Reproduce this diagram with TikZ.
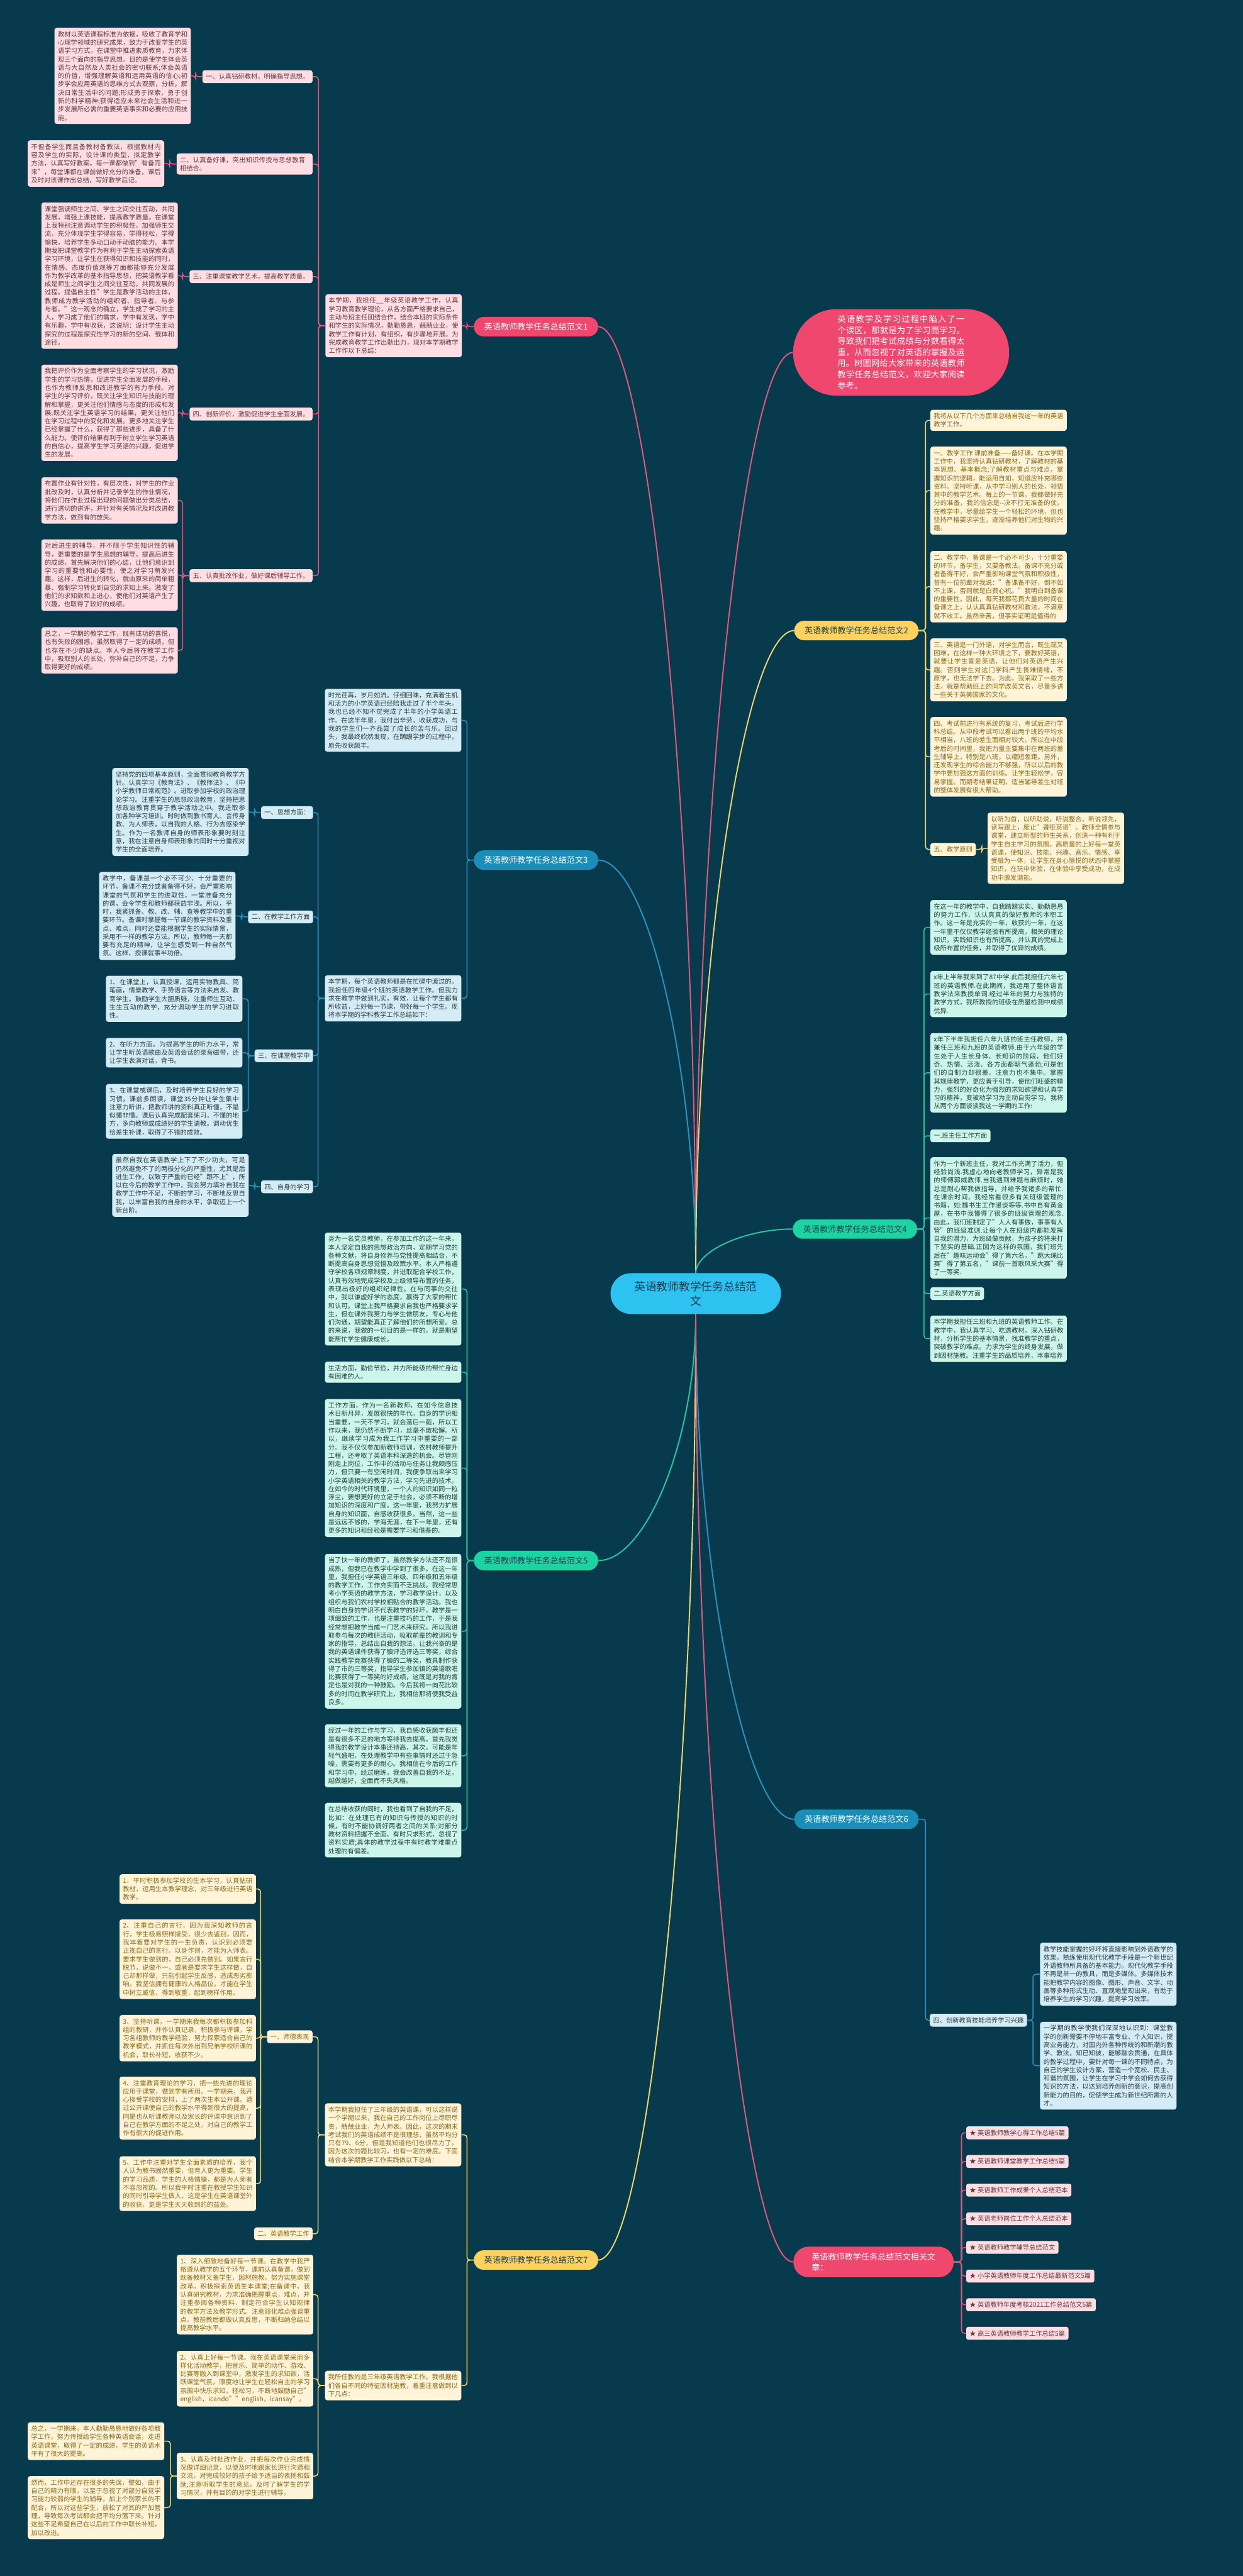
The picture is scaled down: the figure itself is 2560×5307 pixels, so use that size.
\documentclass[tikz,border=0pt]{standalone}
\usepackage{fontspec}
\setmainfont{Noto Sans CJK SC}
\XeTeXlinebreaklocale "zh"
\XeTeXlinebreakskip=0pt plus 1pt
\usetikzlibrary{positioning}

\definecolor{bgc}{RGB}{7,58,77}
\definecolor{pkFill}{HTML}{F0476F}
\definecolor{pkLine}{HTML}{E5577E}
\definecolor{pkBox}{HTML}{FFDDE2}
\definecolor{pkText}{HTML}{5E3A40}
\definecolor{ywFill}{HTML}{FFD25E}
\definecolor{ywLine}{HTML}{F2D56B}
\definecolor{ywBox}{HTML}{FFF3D8}
\definecolor{ywText}{HTML}{8E6A18}
\definecolor{blFill}{HTML}{1A8DB9}
\definecolor{blLine}{HTML}{2993C2}
\definecolor{blBox}{HTML}{D3ECF5}
\definecolor{blText}{HTML}{2E3B40}
\definecolor{gnFill}{HTML}{1CD3A2}
\definecolor{gnLine}{HTML}{22C9A0}
\definecolor{gnBox}{HTML}{CCF6EA}
\definecolor{gnText}{HTML}{24403C}
\definecolor{ctFill}{HTML}{2EC2F0}
\definecolor{ctText}{HTML}{1C3D50}

\newcommand{\cardfont}{\fontsize{13.3}{17.2}\selectfont}
\newcommand{\branchfont}{\fontsize{17}{22}\selectfont}

\tikzset{
  card/.style={rounded corners=5pt, inner xsep=7pt, inner ysep=7pt,
    font=\cardfont, align=justify, text width=267pt},
  tag/.style={rounded corners=5pt, inner xsep=7pt, inner ysep=7pt,
    font=\cardfont, align=left},
  pkcard/.style={card, fill=pkBox, text=pkText, anchor=north west},
  pktag/.style={tag, fill=pkBox, text=pkText, anchor=east},
  ywcard/.style={card, fill=ywBox, text=ywText, anchor=north west},
  ywtag/.style={tag, fill=ywBox, text=ywText},
  blcard/.style={card, fill=blBox, text=blText, anchor=north west},
  bltag/.style={tag, fill=blBox, text=blText},
  gncard/.style={card, fill=gnBox, text=gnText, anchor=north west},
  gntag/.style={tag, fill=gnBox, text=gnText, anchor=west},
  branch/.style={rounded corners=20pt, minimum width=256pt, minimum height=40pt,
    inner xsep=14pt, font=\branchfont},
  pkwire/.style={draw=pkLine, line width=2pt, rounded corners=6pt},
  ywwire/.style={draw=ywLine, line width=2pt, rounded corners=6pt},
  blwire/.style={draw=blLine, line width=2pt, rounded corners=6pt},
  gnwire/.style={draw=gnLine, line width=2pt, rounded corners=6pt},
  mainwire/.style={line width=2.5pt}
}

\begin{document}
\begin{tikzpicture}[x=1pt, y=-1pt]
\useasboundingbox (0,0) rectangle (2560,5307);
\fill[bgc] (0,0) rectangle (2560,5307);

% centre and intro
\node[fill=ctFill, text=ctText, rounded corners=42pt, minimum width=351pt, minimum height=84pt,
  align=center, font=\fontsize{23}{30}\selectfont] (root) at (1433,2665)
  {英语教师教学任务总结范\\文};
\node[fill=pkFill, text=white, rounded corners=89pt, minimum width=445pt, minimum height=178pt,
  text width=262pt, align=justify, font=\fontsize{17.3}{22.7}\selectfont] (intro) at (1856,726)
  {英语教学及学习过程中陷入了一个误区，那就是为了学习而学习，导致我们把考试成绩与分数看得太重，从而忽视了对英语的掌握及运用。树图网给大家带来的英语教师教学任务总结范文，欢迎大家阅读参考。};

% branch nodes
\node[branch, fill=pkFill, text=white] (b1) at (1104,673) {英语教师教学任务总结范文1};
\node[branch, fill=ywFill, text=ctText] (b2) at (1764,1299) {英语教师教学任务总结范文2};
\node[branch, fill=blFill, text=white] (b3) at (1104,1772) {英语教师教学任务总结范文3};
\node[branch, fill=gnFill, text=ctText] (b4) at (1761,2532) {英语教师教学任务总结范文4};
\node[branch, fill=gnFill, text=ctText] (b5) at (1104,3215) {英语教师教学任务总结范文5};
\node[branch, fill=blFill, text=white] (b6) at (1764,3748) {英语教师教学任务总结范文6};
\node[branch, fill=ywFill, text=ctText] (b7) at (1104,4656) {英语教师教学任务总结范文7};
\node[branch, fill=pkFill, text=white, anchor=west, minimum width=330pt, minimum height=63pt,
  align=left, rounded corners=31pt] (b8) at (1634,4660)
  {英语教师教学任务总结范文相关文\\章：};

% main curves
\draw[mainwire, pkLine] (root.north) .. controls (1433,1648) and (1332,673) .. (b1.east);
\draw[mainwire, pkLine] (root.north) .. controls (1433,1675) and (1534,726) .. (intro.west);
\draw[mainwire, blLine] (root.north) .. controls (1433,2198) and (1332,1772) .. (b3.east);
\draw[mainwire, ywLine] (root.north) .. controls (1433,1961) and (1535,1299) .. (b2.west);
\draw[mainwire, gnLine] (root.north) .. controls (1433,2578) and (1533,2532) .. (b4.west);
\draw[mainwire, gnLine] (root.south) .. controls (1433,2961) and (1332,3215) .. (b5.east);
\draw[mainwire, blLine] (root.south) .. controls (1433,3228) and (1535,3748) .. (b6.west);
\draw[mainwire, ywLine] (root.south) .. controls (1433,3682) and (1332,4656) .. (b7.east);
\draw[mainwire, pkLine] (root.south) .. controls (1433,3684) and (1534,4660) .. (b8.west);

% branch 1
\node[pkcard] (b1i) at (670,606) {本学期，我担任\_\_年级英语教学工作，认真学习教育教学理论，从各方面严格要求自己，主动与班主任团结合作，结合本班的实际条件和学生的实际情况，勤勤恳恳，兢兢业业，使教学工作有计划，有组织，有步骤地开展。为完成教育教学工作出勤出力，现对本学期教学工作作以下总结：};
\node[pktag] (b1l1) at (644,158) {一、认真钻研教材，明确指导思想。};
\node[pktag, text width=266pt] (b1l2) at (644,338) {二、认真备好课，突出知识传授与思想教育相结合。};
\node[pktag] (b1l3) at (644,570) {三、注重课堂教学艺术，提高教学质量。};
\node[pktag] (b1l4) at (644,853) {四、创新评价，激励促进学生全面发展。};
\node[pktag] (b1l5) at (644,1186) {五、认真批改作业，做好课后辅导工作。};
\node[pkcard] (b1t1) at (112,57) {教材以英语课程标准为依据，吸收了教育学和心理学领域的研究成果，致力于改变学生的英语学习方式，在课堂中推进素质教育，力求体现三个面向的指导思想。目的是使学生体会英语与大自然及人类社会的密切联系;体会英语的价值，增强理解英语和运用英语的信心;初步学会应用英语的思维方式去观察，分析，解决日常生活中的问题;形成勇于探索，勇于创新的科学精神;获得适应未来社会生活和进一步发展所必需的重要英语事实和必要的应用技能。};
\node[pkcard] (b1t2) at (57,289) {不但备学生而且备教材备教法，根据教材内容及学生的实际，设计课的类型，拟定教学方法，认真写好教案。每一课都做到"有备而来"，每堂课都在课前做好充分的准备，课后及时对该课作出总结，写好教学后记。};
\node[pkcard] (b1t3) at (85,417) {课堂强调师生之间、学生之间交往互动，共同发展，增强上课技能，提高教学质量。在课堂上我特别注意调动学生的积极性，加强师生交流，充分体现学生学得容易，学得轻松，学得愉快，培养学生多动口动手动脑的能力。本学期我把课堂教学作为有利于学生主动探索英语学习环境，让学生在获得知识和技能的同时，在情感、态度价值观等方面都能够充分发展作为教学改革的基本指导思想，把英语教学看成是师生之间学生之间交往互动，共同发展的过程。提倡自主性"学生是教学活动的主体，教师成为教学活动的组织者、指导者、与参与者。"这一观念的确立，学生成了学习的主人，学习成了他们的需求，学中有发现，学中有乐趣，学中有收获，这说明：设计学生主动探究的过程是探究性学习的新的空间、载体和途径。};
\node[pkcard] (b1t4) at (85,751) {我把评价作为全面考察学生的学习状况，激励学生的学习热情，促进学生全面发展的手段，也作为教师反思和改进教学的有力手段。对学生的学习评价，既关注学生知识与技能的理解和掌握，更关注他们情感与态度的形成和发展;既关注学生英语学习的结果，更关注他们在学习过程中的变化和发展。更多地关注学生已经掌握了什么，获得了那些进步，具备了什么能力。使评价结果有利于树立学生学习英语的自信心，提高学生学习英语的兴趣，促进学生的发展。};
\node[pkcard] (b1t5a) at (85,983) {布置作业有针对性，有层次性，对学生的作业批改及时，认真分析并记录学生的作业情况，将他们在作业过程出现的问题做出分类总结，进行透切的讲评，并针对有关情况及时改进教学方法，做到有的放矢。};
\node[pkcard] (b1t5b) at (85,1111) {对后进生的辅导，并不限于学生知识性的辅导，更重要的是学生思想的辅导，提高后进生的成绩，首先解决他们的心结，让他们意识到学习的重要性和必要性，使之对学习萌发兴趣。这样，后进生的转化，就由原来的简单粗暴、强制学习转化到自觉的求知上来。激发了他们的求知欲和上进心，使他们对英语产生了兴趣，也取得了较好的成绩。};
\node[pkcard] (b1t5c) at (85,1292) {总之，一学期的教学工作，既有成功的喜悦，也有失败的困惑，虽然取得了一定的成绩，但也存在不少的缺点。本人今后将在教学工作中，吸取别人的长处，弥补自己的不足，力争取得更好的成绩。};
\draw[pkwire] (b1.west) -- ++(-14,0) |- (b1i.east);
\foreach \c in {b1l1,b1l2,b1l3,b1l4,b1l5}
  \draw[pkwire] (b1i.west) -- ++(-14,0) |- (\c.east);
\foreach \p/\c in {b1l1/b1t1,b1l2/b1t2,b1l3/b1t3,b1l4/b1t4,b1l5/b1t5a,b1l5/b1t5b,b1l5/b1t5c}
  \draw[pkwire] (\p.west) -- ++(-14,0) |- (\c.east);

% branch 2
\node[ywcard] (b2t1) at (1916,844) {我将从以下几个方面来总结自我这一年的英语教学工作。};
\node[ywcard] (b2t2) at (1916,920) {一、教学工作 课前准备——备好课。在本学期工作中，我坚持认真钻研教材，了解教材的基本思想、基本概念;了解教材重点与难点，掌握知识的逻辑，能运用自如，知道应补充哪些资料。坚持听课，从中学习别人的长处，领悟其中的教学艺术。每上的一节课，我都做好充分的准备，我的信念是{-}{-}决不打无准备的仗。在教学中，尽量给学生一个轻松的环境，但也坚持严格要求学生，逐渐培养他们对生物的兴趣。};
\node[ywcard] (b2t3) at (1916,1135) {二、教学中，备课是一个必不可少，十分重要的环节，备学生，又要备教法。备课不充分或者备得不好，会严重影响课堂气氛和积极性，曾有一位前辈对我说："备课备不好，倒不如不上课，否则就是白费心机。"我明白到备课的重要性，因此，每天我都花费大量的时间在备课之上，认认真真钻研教材和教法，不满意就不收工。虽然辛苦，但事实证明是值得的};
\node[ywcard] (b2t4) at (1916,1315) {三、英语是一门外语，对学生而言，既生疏又困难，在这样一种大环境之下，要教好英语，就要让学生喜爱英语，让他们对英语产生兴趣。否则学生对这门学科产生畏难情绪，不原学，也无法学下去。为此，我采取了一些方法，就是帮助班上的同学改英文名，尽量多讲一些关于英美国家的文化。};
\node[ywcard] (b2t5) at (1916,1477) {四、考试前进行有系统的复习，考试后进行学科总结。从中段考试可以看出两个班的平均水平相当，八班的差生面相对较大。所以在中段考后的时间里，我把力量主要集中在两班的差生辅导上，特别是八班，以缩短差距。另外，还发现学生的综合能力不够强，所以以后的教学中要加强这方面的训练。让学生轻松学，容易掌握。而期考结果证明，适当辅导差生对班的整体发展有很大帮助。};
\node[ywtag, anchor=west] (b2l6) at (1916,1750) {五、教学原则};
\node[ywcard] (b2t6) at (2034,1674) {以听为首，以听助说，听说整合，听说领先，读写跟上，废止"聋哑英语"。教师全情参与课堂，建立新型的师生关系，创造一种有利于学生自主学习的氛围，高质量的上好每一堂英语课，使知识、技能、兴趣、音乐、情感、享受融为一体，让学生在身心愉悦的状态中掌握知识，在玩中体验，在体验中享受成功，在成功中激发潜能。};
\foreach \c in {b2t1,b2t2,b2t3,b2t4,b2t5,b2l6}
  \draw[ywwire] (b2.east) -- ++(14,0) |- (\c.west);
\draw[ywwire] (b2l6.east) -- ++(12,0) |- (b2t6.west);

% branch 3
\node[blcard] (b3a) at (669,1419) {时光荏苒，岁月如流。仔细回味，充满着生机和活力的小学英语已经陪我走过了半个年头。我也已经不知不觉完成了半年的小学英语工作。在这半年里，我付出辛劳，收获成功，与我的学生们一齐品尝了成长的苦与乐。回过头，我最终欣然发现，在蹒跚学步的过程中，原先收获颇丰。};
\node[blcard] (b3b) at (669,2009) {本学期，每个英语教师都是在忙碌中渡过的。我担任四年级4个班的英语教学工作。但我力求在教学中做到扎实，有效，让每个学生都有所收益，上好每一节课，带好每一个学生。现将本学期的学科教学工作总结如下：};
\node[bltag, anchor=east] (b3l1) at (645,1674) {一、思想方面：};
\node[bltag, anchor=east] (b3l2) at (645,1889) {二、在教学工作方面};
\node[bltag, anchor=east] (b3l3) at (645,2175) {三、在课堂教学中};
\node[bltag, anchor=east] (b3l4) at (645,2445) {四、自身的学习};
\node[blcard] (b3t1) at (231,1582) {坚持党的四项基本原则，全面贯彻教育教学方针。认真学习《教育法》、《教师法》、《中小学教师日常规范》。进取参加学校的政治理论学习。注重学生的思想政治教育，坚持把思想政治教育贯穿于教学活动之中。我进取参加各种学习培训。时时做到教书育人、言传身教、为人师表，以自我的人格、行为去感染学生。作为一名教师自身的师表形象要时刻注意，我在注意自身师表形象的同时十分重视对学生的全面培养。};
\node[blcard] (b3t2) at (204,1796) {教学中，备课是一个必不可少、十分重要的环节，备课不充分或者备得不好，会严重影响课堂的气氛和学生的进取性，一堂准备充分的课，会令学生和教师都获益非浅。所以，平时，我紧抓备、教、改、辅、查等教学中的重要环节。备课时掌握每一节课的教学资料及重点、难点，同时还要能根据学生的实际情景，采用不一样的教学方法。所以，教师每一天都要有充足的精神，让学生感受到一种自然气氛。这样，授课就事半功倍。};
\node[blcard] (b3t3a) at (218,2010) {1、在课堂上，认真授课，运用实物教具、简笔画，情景教学、手势语言等方法来启发、教育学生。鼓励学生大胆质疑，注重师生互动、生生互动的教学，充分调动学生的学习进取性。};
\node[blcard] (b3t3b) at (218,2138) {2、在听力方面。为提高学生的听力水平，常让学生听英语歌曲及英语会话的录音磁带，还让学生表演对话，背书。};
\node[blcard] (b3t3c) at (218,2233) {3、在课堂或课后，及时培养学生良好的学习习惯，课前多朗读，课堂35分钟让学生集中注意力听讲，把教师讲的资料真正听懂，不是似懂非懂。课后认真完成配套练习，不懂的地方，多向教师或成绩好的学生请教。调动优生给差生补课，取得了不错的成效。};
\node[blcard] (b3t4) at (231,2377) {虽然自我在英语教学上下了不少功夫，可是仍然避免不了的两极分化的严重性，尤其是后进生工作，以致于严重的已经"跟不上"，所以在今后的教学工作中，我会努力填补自我在教学工作中不足，不断的学习，不断地反思自我，以丰富自我的自身的水平，争取迈上一个新台阶。};
\foreach \c in {b3a,b3b}
  \draw[blwire] (b3.west) -- ++(-14,0) |- (\c.east);
\foreach \c in {b3l1,b3l2,b3l3,b3l4}
  \draw[blwire] (b3b.west) -- ++(-14,0) |- (\c.east);
\foreach \p/\c in {b3l1/b3t1,b3l2/b3t2,b3l3/b3t3a,b3l3/b3t3b,b3l3/b3t3c,b3l4/b3t4}
  \draw[blwire] (\p.west) -- ++(-13,0) |- (\c.east);

% branch 4
\node[gncard] (b4t1) at (1916,1854) {在这一年的教学中，自我踏踏实实、勤勤恳恳的努力工作，认认真真的做好教师的本职工作。这一年是充实的一年，收获的一年，在这一年里不仅仅教学经验有所提高，相关的理论知识，实践知识也有所提高，并认真的完成上级所布置的任务，并取得了优异的成绩。};
\node[gncard] (b4t2) at (1916,2000) {x年上半年我来到了87中学.此后我担任六年七班的英语教师.在此期间，我运用了整体语言教学法来教授单词.经过半年的努力与独特的教学方式，我所教授的班级在质量检测中成绩优异.};
\node[gncard] (b4t3) at (1916,2128) {x年下半年我担任六年九班的班主任教师，并兼任三班和九班的英语教师.由于六年级的学生处于人生长身体、长知识的阶段，他们好奇、热情、活泼、各方面都朝气蓬勃;可是他们的自制力却很差，注意力也不集中。掌握其规律教学，更应善于引导，使他们旺盛的精力，强烈的好奇化为强烈的求知欲望和认真学习的精神，变被动学习为主动自觉学习。我将从两个方面谈谈我这一学期的工作:};
\node[gntag] (b4l4) at (1916,2340) {一.班主任工作方面};
\node[gncard] (b4t5) at (1916,2384) {作为一个新班主任，我对工作充满了活力，但经验尚浅.我虚心地向老教师学习，异常是我的师傅郭威教师.当我遇到难题与麻烦时，她总是耐心帮我做指导，并给予我诸多的帮忙.在课余时间，我经常看很多有关班级管理的书籍，如:魏书生工作漫谈等等.书中自有黄金屋，在书中我懂得了很多的班级管理的观念.由此，我们班制定了"人人有事做，事事有人管"的班级准则.让每个人在班级内都能发挥自我的潜力，为班级做贡献，为孩子的将来打下坚实的基础.正因为这样的氛围，我们班先后在"趣味运动会"得了第六名，"跳大绳比赛"得了第五名，"课前一首歌风采大赛"得了一等奖.};
\node[gntag] (b4l6) at (1916,2665) {二.英语教学方面};
\node[gncard] (b4t7) at (1916,2710) {本学期我担任三班和九班的英语教师工作。在教学中，我认真学习、吃透教材，深入钻研教材，分析学生的基本情景，找准教学的重点，突破教学的难点。力求为学生的终身发展，做到因材施教。注重学生的品质培养，本事培养};
\foreach \c in {b4t1,b4t2,b4t3,b4l4,b4t5,b4l6,b4t7}
  \draw[gnwire] (b4.east) -- ++(14,0) |- (\c.west);

% branch 5
\node[gncard] (b5t1) at (669,2539) {身为一名党员教师，在参加工作的这一年来，本人坚定自我的思想政治方向，定期学习党的各种文献，将自身修养与党性提高相结合，不断提高自身思想觉悟及政策水平。本人严格遵守学校各项规章制度，并进取配合学校工作，认真有效地完成学校及上级领导布置的任务，表现出极好的组织纪律性。在与同事的交往中，我以谦虚好学的态度，赢得了大家的帮忙和认可。课堂上我严格要求自我也严格要求学生，但在课外我努力与学生做朋友，专心与他们沟通，期望能真正了解他们的所想所爱。总的来说，我做的一切目的是一样的，就是期望能帮忙学生健康成长。};
\node[gncard] (b5t2) at (669,2805) {生活方面，勤俭节俭，并力所能级的帮忙身边有困难的人。};
\node[gncard] (b5t3) at (669,2882) {工作方面，作为一名新教师，在如今信息技术日新月异，发展很快的年代，自身的学识相当重要，一天不学习，就会落后一截，所以工作以来，我仍然不断学习，丝毫不敢松懈。所以，继续学习成为我工作学习中重要的一部分。我不仅仅参加新教师培训，农村教师提升工程，还考取了英语本科深造的机会。尽管刚刚走上岗位，工作中的活动与任务让我颇感压力，但只要一有空闲时间，我便争取出来学习小学英语相关的教学方法，学习先进的技术。在如今的时代环境里，一个人的知识如同一粒浮尘，要想更好的立足于社会，必须不断的增加知识的深度和广度。这一年里，我努力扩展自身的知识面，自感收获很多。当然，这一些是远远不够的，学海无涯，在下一年里，还有更多的知识和经验是需要学习和借鉴的。};
\node[gncard] (b5t4) at (669,3201) {当了快一年的教师了，虽然教学方法还不是很成熟，但我已在教学中学到了很多。在这一年里，我担任小学英语三年级、四年级和五年级的教学工作，工作充实而不乏挑战。我经常思考小学英语的教学方法，学习教学设计，以及组织与我们农村学校相贴合的教学活动。我也明白自身的学识不代表教学的好坏，教学是一项细致的工作，也是注重技巧的工作，于是我经常想把教学当成一门艺术来研究。所以我进取参与每次的教研活动，吸取前辈的教训和专家的指导，总结出自我的想法。让我兴奋的是我的英语课件获得了镇评选评选三等奖，综合实践教学竞赛获得了镇的二等奖，教具制作获得了市的三等奖，指导学生参加镇的英语歌唱比赛获得了一等奖的好成绩，这既是对我的肯定也是对我的一种鼓励。今后我将一向花比较多的时间在教学研究上，我相信那将使我受益良多。};
\node[gncard] (b5t5) at (669,3552) {经过一年的工作与学习，我自感收获颇丰但还是有很多不足的地方等待我去提高。首先我觉得我的教学设计本事还待高，其次，可能是年轻气盛吧，在处理教学中有些事情时还过于急噪，需要有更多的耐心。我相信在今后的工作和学习中，经过磨练，我会改善自我的不足，越做越好，全面而不失风格。};
\node[gncard] (b5t6) at (669,3714) {在总结收获的同时，我也看到了自我的不足，比如：在处理已有的知识与传授的知识的时候，有时不能协调好两者之间的关系;对部分教材资料把握不全面、有时只求形式，忽视了资料实质;具体的教学过程中有时教学难重点处理的有偏差。};
\foreach \c in {b5t1,b5t2,b5t3,b5t4,b5t5,b5t6}
  \draw[gnwire] (b5.west) -- ++(-14,0) |- (\c.east);

% branch 6
\node[bltag, anchor=west] (b6l4) at (1915,4162) {四、创新教育技能培养学习兴趣};
\node[blcard] (b6t4a) at (2142,4002) {教学技能掌握的好坏将直接影响到外语教学的效果。熟练使用现代化教学手段是一个新世纪外语教师所具备的基本能力。现代化教学手段不再是单一的教具，而是多媒体。多媒体技术能把教学内容的图像、图形、声音、文字、动画等多种形式生动、直观地呈现出来，有助于培养学生的学习兴趣，提高学习效率。};
\node[blcard] (b6t4b) at (2142,4165) {一学期的教学使我们深深地认识到：课堂教学的创新需要不停地丰富专业、个人知识，提高业务能力，对国内外各种传统的和新潮的教学、教法，知已知彼，能够融会贯通，在具体的教学过程中，要针对每一课的不同特点，为自己的学生设计方案，营造一个宽松、民主、和谐的氛围，让学生在学习中学会如何去获得知识的方法，以达到培养创新的意识，提高创新能力的目的，促使学生成为新世纪所需的人才。};
\draw[blwire] (b6.east) -- ++(14,0) |- (b6l4.west);
\foreach \c in {b6t4a,b6t4b}
  \draw[blwire] (b6l4.east) -- ++(12,0) |- (\c.west);

% branch 7
\node[ywcard] (b7a) at (669,4333) {本学期我担任了三年级的英语课，可以这样说一个学期以来，我在自己的工作岗位上尽职尽责，兢兢业业，为人师表。因此，这次的期末考试我们的英语成绩不是很理想，虽然平均分只有79、6分，但是我知道他们也很尽力了。因为这次的题比较习，也有一定的难度。下面结合本学期教学工作实践做以下总结：};
\node[ywcard] (b7b) at (669,4884) {我所任教的是三年级英语教学工作。我根据他们各自不同的特征因材施教，着重注意做到以下几点：};
\node[ywtag, anchor=east] (b7l1) at (644,4196) {一、师德表现};
\node[ywtag, anchor=east] (b7l2) at (644,4602) {二、英语教学工作};
\node[ywcard] (b7t1) at (246,3861) {1、平时积极参加学校的生本学习，认真钻研教材，运用生本教学理念，对三年级进行英语教学。};
\node[ywcard] (b7t2) at (246,3954) {2、注重自己的言行，因为我深知教师的言行，学生极易照样接受，很少去鉴别，因而，我本着要对学生的一生负责，认识到必须要正视自己的言行。以身作则，才能为人师表。要求学生做到的，自己必须先做到。如果言行脱节，说做不一，或者是要求学生这样做，自己却那样做，只能引起学生反感，造成恶劣影响。我坚信拥有健康的人格品位，才能在学生中树立威信、得到敬重，起到榜样作用。};
\node[ywcard] (b7t3) at (246,4151) {3、坚持听课，一学期来我每次都积极参加科组的教研，并作认真记录，积极参与评课，学习各组教师的教学经验，努力探索适合自己的教学模式，并抓住每次外出到兄弟学校听课的机会，取长补短，收获不少。};
\node[ywcard] (b7t4) at (246,4278) {4、注重教育理论的学习，把一些先进的理论应用于课堂，做到学有所用。一学期来，我开心接受学校的安排，上了两次生本公开课。通过公开课使自己的教学水平得到很大的提高，同是也从听课教师以及家长的评课中意识到了自己在教学方面的不足之处，对自己的教学工作有很大的促进作用。};
\node[ywcard] (b7t5) at (246,4442) {5、工作中注重对学生全面素质的培养，我个人认为教书固然重要，但育人更为重要。学生的学习品质，学生的人格情操，都是为人师者不容忽视的。所以我平时注重在教授学生知识的同时引导学生做人，这是学生在英语课堂外的收获，更是学生天天收到的的益处。};
\node[ywcard] (b7c1) at (364,4645) {1、深入细致地备好每一节课。在教学中我严格遵从教学的五个环节，课前认真备课，做到既备教材又备学生，因材施教，努力实施课堂改革，积极探索英语生本课堂;在备课中，我认真研究教材，力求准确把握重点，难点，并注重参阅各种资料，制定符合学生认知规律的教学方法及教学形式。注意弱化难点强调重点。教前教后都做认真反思，不断归纳总结以提高教学水平。};
\node[ywcard] (b7c2) at (364,4843) {2、认真上好每一节课。我在英语课堂采用多样化活动教学，把音乐、简单的动作、游戏、比赛等融入到课堂中，激发学生的求知欲，活跃课堂气氛，限度地让学生在轻松自主的学习氛围中快乐求知，轻松习，不断地鼓励自己"english，icando""english，icansay"。};
\node[ywcard] (b7c3) at (364,5053) {3、认真及时批改作业，并把每次作业完成情况做详细记录，以便及时地跟家长进行沟通和交流，对完成较好的孩子给予适当的表扬和鼓励;注意听取学生的意见，及时了解学生的学习情况，并有目的的对学生进行辅导。};
\node[ywcard] (b7d1) at (57,4990) {总之，一学期来，本人勤勤恳恳地做好各项教学工作，努力传授给学生各种英语会话，走进英语课堂，取得了一定的成绩，学生的英语水平有了很大的提高。};
\node[ywcard] (b7d2) at (57,5101) {然而，工作中还存在很多的失误，譬如，由于自己的精力有限，以至于忽视了对部分自觉学习能力较弱的学生的辅导，加上个别家长的不配合，所以对这些学生，放松了对其的严加管理，导致每次考试都会把平均分落下来。针对这些不足希望自己在以后的工作中取长补短，加以改进。};
\foreach \c in {b7a,b7b}
  \draw[ywwire] (b7.west) -- ++(-14,0) |- (\c.east);
\foreach \c in {b7l1,b7l2}
  \draw[ywwire] (b7a.west) -- ++(-14,0) |- (\c.east);
\foreach \c in {b7t1,b7t2,b7t3,b7t4,b7t5}
  \draw[ywwire] (b7l1.west) -- ++(-13,0) |- (\c.east);
\foreach \c in {b7c1,b7c2,b7c3}
  \draw[ywwire] (b7b.west) -- ++(-14,0) |- (\c.east);
\foreach \c in {b7d1,b7d2}
  \draw[ywwire] (b7c3.west) -- ++(-13,0) |- (\c.east);

% branch 8
\foreach \t [count=\i] in {英语教师教学心得工作总结5篇,英语教师课堂教学工作总结5篇,英语教师工作成果个人总结范本,英语老师岗位工作个人总结范本,英语教师教学辅导总结范文,小学英语教师年度工作总结最新范文5篇,英语教师年度考核2021工作总结范文5篇,高三英语教师教学工作总结5篇}
  \node[tag, fill=pkBox, text=pkText, anchor=west, rounded corners=4pt] (b8k\i) at (1990,4335+59*\i) {★ \t};
\foreach \i in {1,...,8}
  \draw[pkwire] (b8.east) -- ++(16,0) |- (b8k\i.west);
\end{tikzpicture}
\end{document}
